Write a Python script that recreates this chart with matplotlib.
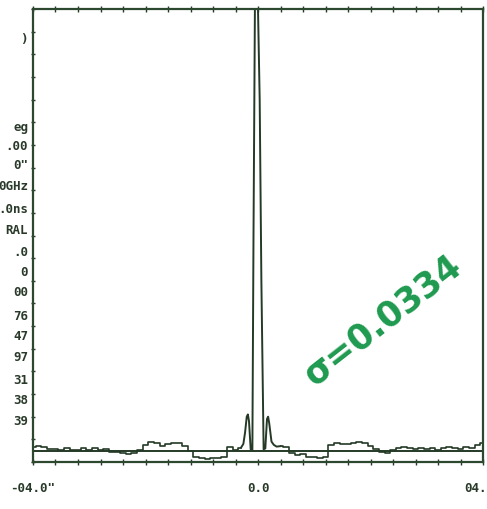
import matplotlib
matplotlib.use("Agg")
import matplotlib.pyplot as plt
import numpy as np

# ---- data (x in arbitrary units, y in % of full scale) ----
noise_left_x = [-4.0, -3.9, -3.8, -3.7, -3.6, -3.5, -3.4, -3.3, -3.2, -3.1, -3.0,
                -2.9, -2.8, -2.7, -2.6, -2.5, -2.4, -2.3, -2.2, -2.1, -2.0,
                -1.9, -1.8, -1.7, -1.6, -1.5, -1.4, -1.3, -1.2, -1.1, -1.0,
                -0.9, -0.8, -0.7, -0.6, -0.5, -0.4, -0.3]
noise_left_y = [3.3, 3.6, 3.3, 2.9, 2.9, 2.6, 3.0, 2.6, 2.6, 3.0, 2.6,
                3.1, 2.7, 2.8, 2.2, 2.2, 2.0, 1.8, 2.0, 2.6, 3.8,
                4.4, 4.2, 3.6, 3.9, 4.2, 4.1, 3.6, 2.4, 1.1, 0.8,
                0.7, 0.9, 0.8, 1.2, 3.3, 2.6, 3.2]
peak_x = [-0.3, -0.26, -0.23, -0.20, -0.18, -0.16, -0.13, -0.10, -0.08,
          -0.055, 0.0, 0.03, 0.06, 0.10, 0.13, 0.16, 0.18, 0.20, 0.24,
          0.28, 0.33, 0.4]
peak_y = [3.2, 4.0, 6.5, 10.0, 10.5, 9.0, 2.8, 2.6, 50.0,
          100.0, 100.0, 80.0, 40.0, 2.8, 3.0, 9.5, 10.0, 8.5, 4.5,
          3.8, 3.4, 3.5]
noise_right_x = [0.4, 0.5, 0.6, 0.7, 0.8, 0.9, 1.0, 1.1, 1.2, 1.3, 1.4,
                 1.5, 1.6, 1.7, 1.8, 1.9, 2.0, 2.1, 2.2, 2.3, 2.4,
                 2.5, 2.6, 2.7, 2.8, 2.9, 3.0, 3.1, 3.2, 3.3, 3.4,
                 3.5, 3.6, 3.7, 3.8, 3.9, 4.0]
noise_right_y = [3.5, 3.4, 2.0, 1.6, 1.8, 1.0, 1.1, 0.9, 1.2, 3.8, 4.2,
                 4.0, 3.9, 4.2, 4.5, 4.3, 3.6, 2.9, 2.2, 2.0, 2.6,
                 3.1, 3.4, 3.0, 2.8, 3.2, 2.9, 3.0, 2.7, 3.0, 3.4,
                 3.0, 2.9, 3.3, 3.1, 3.8, 4.3]
reference_level = 2.4

x_tick_values = [-4.0, 0.0, 4.0]
x_tick_labels = ['-04.0"', '0.0', '04.0"']

side_labels = [")", "eg", ".00", '0"', "0GHz", ".0ns", "RAL", ".0", "0",
               "00", "76", "47", "97", "31", "38", "39"]
side_label_rows = [40, 128, 147, 166, 187, 210, 231, 253, 272, 293,
                   316, 337, 358, 380, 401, 422]

annotation = "σ=0.0334"

# ---- figure ----
W, H = 487, 510
fig = plt.figure(figsize=(W / 100, H / 100), dpi=100)
fig.patch.set_facecolor("white")
ax = fig.add_axes([33 / W, (H - 463) / H, 450 / W, 453 / H])

ink = "#243a26"
ax.plot(noise_left_x, noise_left_y, color=ink, lw=1.2, drawstyle="steps-mid")
ax.plot(peak_x, peak_y, color=ink, lw=1.4)
ax.plot(noise_right_x, noise_right_y, color=ink, lw=1.2, drawstyle="steps-mid")
ax.axhline(reference_level, color=ink, lw=1.4)

ax.set_xlim(-4, 4)
ax.set_ylim(0, 100)
for s in ax.spines.values():
    s.set_color("#2c482e")
    s.set_linewidth(1.6)

ax.set_xticks(x_tick_values)
ax.set_xticklabels(x_tick_labels, family="DejaVu Sans Mono", fontsize=9,
                   color="#2a3a2a", weight="bold")
ax.set_xticks(np.linspace(-4, 4, 21), minor=True)
ax.set_yticks([])
ax.set_yticks(np.linspace(0, 100, 21), minor=True)
ax.tick_params(axis="x", which="both", direction="inout", length=4,
               color=ink, top=True, bottom=True, pad=12, width=1)
ax.tick_params(axis="y", which="minor", direction="inout", length=3,
               color=ink, left=True, right=False, width=1)

for lab, row in zip(side_labels, side_label_rows):
    fig.text(28 / W, 1 - row / H, lab, ha="right", va="center",
             family="DejaVu Sans Mono", fontsize=9, color="#2a3a2a",
             weight="bold")

fig.text(383 / W, 1 - 320 / H, annotation, rotation=38, ha="center",
         va="center", fontsize=25, color="#1f9a50", weight="bold",
         rotation_mode="anchor")

fig.savefig("out.png", dpi=100, facecolor="white")
